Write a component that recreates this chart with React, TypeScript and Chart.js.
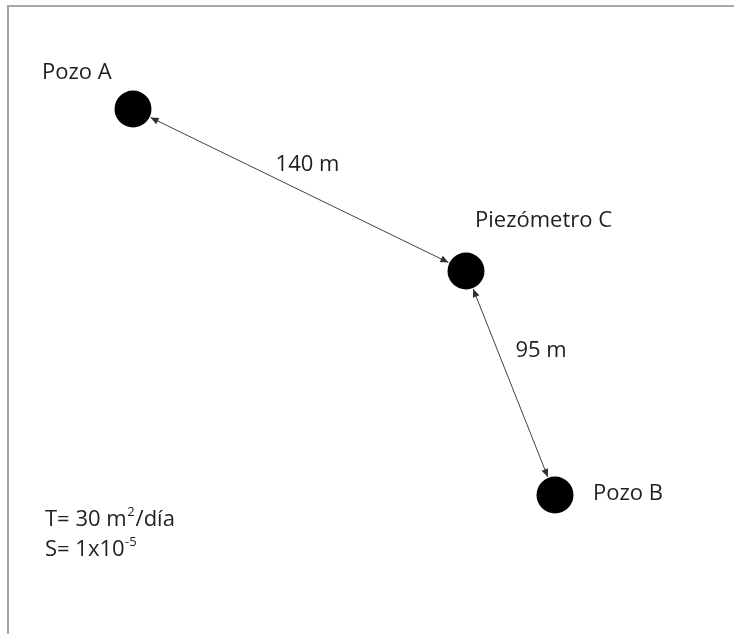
import React, { useEffect, useRef } from "react";
import { Chart, registerables } from "chart.js";

Chart.register(...registerables);

const wellNames = ["Pozo A", "Piezómetro C", "Pozo B"];
const wellX = [133, 466, 555];
const wellY = [109, 271, 495];
const distanceLabels = ["140 m", "95 m"];
const distancePairs = [
  [0, 1],
  [1, 2],
];
const paramLines = [
  { base: "T= 30 m", sup: "2", tail: "/día" },
  { base: "S= 1x10", sup: "-5", tail: "" },
];

const FONT = "'Open Sans', Lato, sans-serif";
const FS = 22;
const POINT_R = 18.5;

const diagramPlugin = {
  id: "diagram",
  beforeDraw(chart: any) {
    const ctx = chart.ctx;
    ctx.save();
    ctx.strokeStyle = "#a6a6a6";
    ctx.lineWidth = 2;
    ctx.beginPath();
    ctx.moveTo(8, 634);
    ctx.lineTo(8, 6);
    ctx.lineTo(734, 6);
    ctx.stroke();
    ctx.restore();
  },
  afterDatasetsDraw(chart: any) {
    const ctx = chart.ctx;
    const xs = chart.scales.x;
    const ys = chart.scales.y;
    const px = (i: number) => xs.getPixelForValue(wellX[i]);
    const py = (i: number) => ys.getPixelForValue(wellY[i]);

    ctx.save();
    const head = (x: number, y: number, ang: number) => {
      const L = 8, W = 3.5;
      ctx.beginPath();
      ctx.moveTo(x, y);
      ctx.lineTo(x - L * Math.cos(ang) + W * Math.sin(ang), y - L * Math.sin(ang) - W * Math.cos(ang));
      ctx.lineTo(x - L * Math.cos(ang) - W * Math.sin(ang), y - L * Math.sin(ang) + W * Math.cos(ang));
      ctx.closePath();
      ctx.fill();
    };
    ctx.strokeStyle = "#404040";
    ctx.lineWidth = 1;
    const distOff = [
      [8, -25.5],
      [30.5, -32],
    ];
    distancePairs.forEach(([a, b], k) => {
      const x1 = px(a), y1 = py(a), x2 = px(b), y2 = py(b);
      const ang = Math.atan2(y2 - y1, x2 - x1);
      const g = POINT_R + 1;
      const sx = x1 + g * Math.cos(ang), sy = y1 + g * Math.sin(ang);
      const ex = x2 - g * Math.cos(ang), ey = y2 - g * Math.sin(ang);
      ctx.beginPath();
      ctx.moveTo(sx, sy);
      ctx.lineTo(ex, ey);
      ctx.stroke();
      ctx.fillStyle = "#303030";
      head(ex, ey, ang);
      head(sx, sy, ang + Math.PI);
      const mx = (x1 + x2) / 2, my = (y1 + y2) / 2;
      ctx.fillStyle = "#1f1f1f";
      ctx.font = `${FS}px ${FONT}`;
      ctx.textAlign = "center";
      ctx.textBaseline = "middle";
      ctx.fillText(distanceLabels[k], mx + distOff[k][0], my + distOff[k][1]);
    });

    const nameOff = [
      [-91, -36],
      [9, -50],
      [38, -1],
    ];
    ctx.fillStyle = "#1f1f1f";
    ctx.font = `${FS}px ${FONT}`;
    ctx.textAlign = "left";
    ctx.textBaseline = "middle";
    wellNames.forEach((n, i) => {
      ctx.fillText(n, px(i) + nameOff[i][0], py(i) + nameOff[i][1]);
    });

    paramLines.forEach((p, i) => {
      const x0 = 45;
      const y0 = 520 + i * 30;
      ctx.font = `${FS}px ${FONT}`;
      ctx.textBaseline = "middle";
      ctx.fillText(p.base, x0, y0);
      let w = ctx.measureText(p.base).width;
      ctx.font = `13px ${FONT}`;
      ctx.fillText(p.sup, x0 + w + 0.5, y0 - 8);
      w += ctx.measureText(p.sup).width + 1.5;
      ctx.font = `${FS}px ${FONT}`;
      ctx.fillText(p.tail, x0 + w, y0);
    });
    ctx.restore();
  },
};

export default function App() {
  const ref = useRef<HTMLCanvasElement | null>(null);
  useEffect(() => {
    if (!ref.current) return;
    const chart = new Chart(ref.current, {
      type: "scatter",
      data: {
        datasets: [
          {
            label: "Pozos",
            data: wellX.map((x, i) => ({ x, y: wellY[i] })),
            backgroundColor: "#000000",
            borderColor: "#000000",
            pointRadius: POINT_R,
            pointHoverRadius: POINT_R,
            borderWidth: 0,
          },
        ],
      },
      options: {
        animation: false,
        responsive: false,
        maintainAspectRatio: false,
        layout: { padding: 0, autoPadding: false },
        plugins: { legend: { display: false }, tooltip: { enabled: false } },
        scales: {
          x: { type: "linear", min: 0, max: 734, display: false },
          y: { type: "linear", min: 0, max: 634, reverse: true, display: false },
        },
      },
      plugins: [diagramPlugin],
    });
    return () => chart.destroy();
  }, []);
  return (
    <div style={{ position: "fixed", left: 0, top: 0, width: 734, height: 634, background: "#fff" }}>
      <canvas ref={ref} width={734} height={634} style={{ display: "block" }} />
    </div>
  );
}
